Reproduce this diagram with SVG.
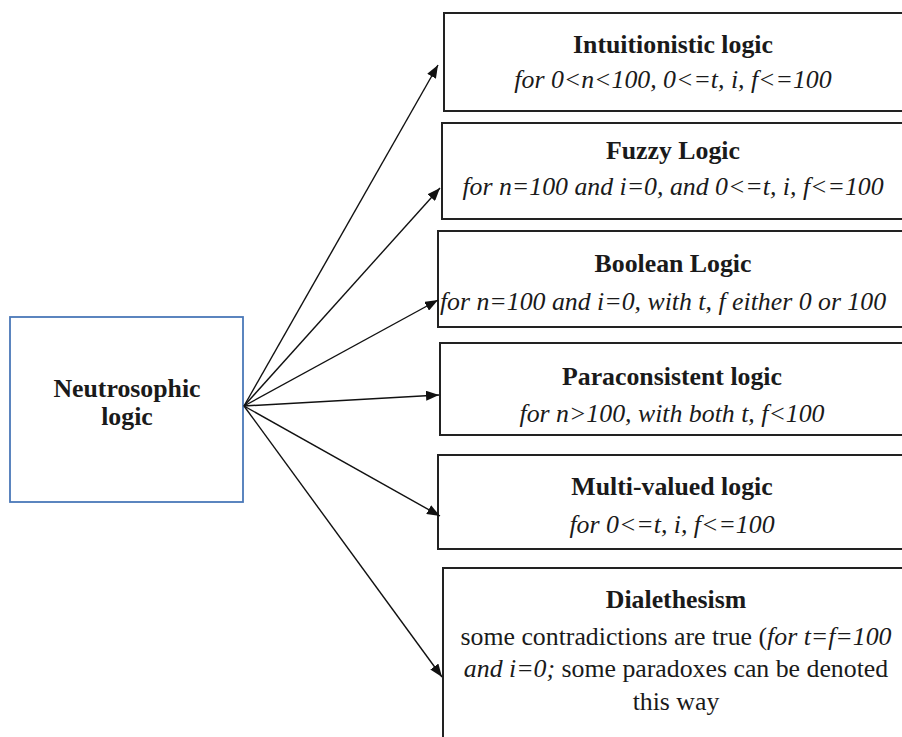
<svg xmlns="http://www.w3.org/2000/svg" width="902" height="737" viewBox="0 0 902 737">
<style>
.box{fill:#fff;stroke:#222;stroke-width:2}
.src{fill:#fff;stroke:#4a78b8;stroke-width:1.8}
.t{font-family:"Liberation Serif","Times New Roman",serif;font-size:25.8px;fill:#1a1a1a;text-anchor:middle}
.b{font-weight:bold}
.i{font-style:italic}
.conn line{stroke:#111;stroke-width:1.4;marker-end:url(#ah)}
</style>
<defs>
<marker id="ah" markerUnits="userSpaceOnUse" markerWidth="14" markerHeight="10" refX="13" refY="5" orient="auto">
<path d="M0,0 L13,5 L0,10 z" fill="#111"/>
</marker>
</defs>
<rect width="902" height="737" fill="#fff"/>
<g id="neutrosophic">
<rect class="src" x="10" y="317" width="233" height="185"/>
<text class="t b" x="127" y="397">Neutrosophic</text>
<text class="t b" x="127" y="425">logic</text>
</g>
<g id="intuitionistic">
<rect class="box" x="444" y="13" width="470" height="98"/>
<text class="t b" x="673" y="53">Intuitionistic logic</text>
<text class="t i" x="673" y="88">for 0&lt;n&lt;100, 0&lt;=t, i, f&lt;=100</text>
</g>
<g id="fuzzy">
<rect class="box" x="442" y="123" width="472" height="96"/>
<text class="t b" x="673" y="159">Fuzzy Logic</text>
<text class="t i" x="673" y="195">for n=100 and i=0, and 0&lt;=t, i, f&lt;=100</text>
</g>
<g id="boolean">
<rect class="box" x="438" y="231" width="476" height="96"/>
<text class="t b" x="673" y="272">Boolean Logic</text>
<text class="t i" x="663" y="310">for n=100 and i=0, with t, f either 0 or 100</text>
</g>
<g id="paraconsistent">
<rect class="box" x="440" y="343" width="474" height="92"/>
<text class="t b" x="672" y="385">Paraconsistent logic</text>
<text class="t i" x="672" y="422">for n&gt;100, with both t, f&lt;100</text>
</g>
<g id="multivalued">
<rect class="box" x="438" y="455" width="476" height="94"/>
<text class="t b" x="672" y="495">Multi-valued logic</text>
<text class="t i" x="672" y="533">for 0&lt;=t, i, f&lt;=100</text>
</g>
<g id="dialethesism">
<rect class="box" x="443" y="568" width="471" height="180"/>
<text class="t b" x="676" y="608">Dialethesism</text>
<text class="t" x="676" y="645">some contradictions are true (<tspan class="i">for t=f=100</tspan></text>
<text class="t" x="676" y="677"><tspan class="i">and i=0;</tspan> some paradoxes can be denoted</text>
<text class="t" x="676" y="710">this way</text>
</g>
<g class="conn" id="connectors">
<line x1="244" y1="406" x2="438" y2="65"/>
<line x1="244" y1="406" x2="440" y2="188"/>
<line x1="244" y1="406" x2="438" y2="300"/>
<line x1="244" y1="406" x2="439" y2="395"/>
<line x1="244" y1="406" x2="440" y2="516"/>
<line x1="244" y1="406" x2="442" y2="677"/>
</g>
</svg>
